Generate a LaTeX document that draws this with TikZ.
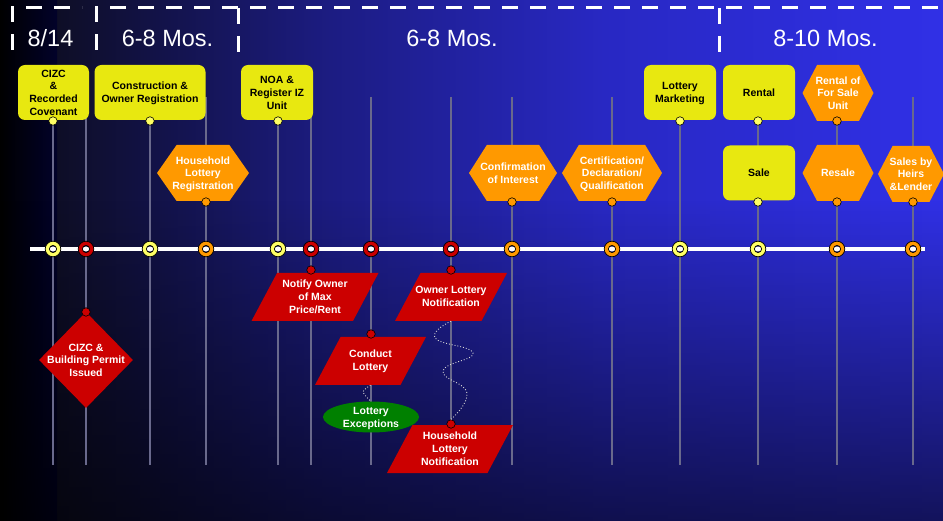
\documentclass[tikz,border=0pt]{standalone}
\usepackage{fontspec}
\setmainfont{Liberation Sans}
\usetikzlibrary{shapes.geometric,shapes.symbols,fadings}

\definecolor{bgA}{RGB}{14,14,38}
\definecolor{bgB}{RGB}{18,18,70}
\definecolor{bgC}{RGB}{28,28,130}
\definecolor{bgD}{RGB}{40,40,195}
\definecolor{bgE}{RGB}{48,48,230}
\definecolor{stripA}{RGB}{0,0,0}
\definecolor{stripB}{RGB}{2,2,42}
\definecolor{byel}{RGB}{232,232,16}
\definecolor{dyel}{RGB}{255,255,100}
\definecolor{borg}{RGB}{255,153,0}
\definecolor{bred}{RGB}{204,0,0}
\definecolor{bgreen}{RGB}{0,128,0}
\definecolor{vgray}{RGB}{105,105,140}

\pgfdeclarehorizontalshading{bgshade}{100bp}{color(0bp)=(bgA); color(25bp)=(bgA); color(28bp)=(bgA); color(33bp)=(bgB); color(42.5bp)=(bgC); color(57bp)=(bgD); color(75bp)=(bgE); color(100bp)=(bgE)}
\pgfdeclarehorizontalshading{stripshade}{100bp}{color(0bp)=(stripA); color(25bp)=(stripA); color(75bp)=(stripB); color(100bp)=(stripB)}
\tikzfading[name=botfade, top color=transparent!100, bottom color=transparent!40]

\newcommand\ztx[1]{\raisebox{-4pt}[0pt][0pt]{\makebox[0pt]{\begin{tabular}{@{}c@{}}#1\end{tabular}}}}
\newcommand\ptx[1]{\raisebox{-3.5pt}[23pt][23pt]{\makebox[0pt]{\begin{tabular}{@{}c@{}}#1\end{tabular}}}}

\begin{document}
\begin{tikzpicture}[x=1pt,y=-1pt,
  every node/.style={font=\bfseries\fontsize{10.5}{12.8}\selectfont, inner sep=0pt},
  ybox/.style={rectangle, rounded corners=7pt, fill=byel, text=black, minimum width=72pt, minimum height=55pt},
  hexo/.style={signal, signal to=east and west, fill=borg, text=white, minimum height=56pt},
  para/.style={trapezium, trapezium left angle=62, trapezium right angle=118, trapezium stretches body=true, inner sep=1pt, fill=bred, text=white, minimum height=48pt},
  dia/.style={diamond, fill=bred, text=white, minimum width=94pt, minimum height=96pt},
  ell/.style={ellipse, fill=bgreen, text=white, minimum width=96pt, minimum height=31pt},
  dot/.style={circle, draw=black, line width=0.6pt, minimum size=8.5pt},
  vline/.style={draw=vgray, line width=1.3pt},
  hdr/.style={font=\fontsize{23.5}{26}\selectfont, text=white},
  hdash/.style={draw=white, line width=3pt, dash pattern=on 16pt off 12pt},
  wave/.style={draw=gray!30, line width=0.9pt, dotted},
  ring/.style={draw=black, line width=0.7pt, fill=#1, even odd rule}
]
% background
\shade[shading=bgshade] (0,0) rectangle (943,521);
\shade[shading=stripshade] (0,0) rectangle (57,521);
\fill[black, path fading=botfade] (0,200) rectangle (943,521);
\useasboundingbox (0,0) rectangle (943,521);

% header brackets
\draw[hdash] (12,50) -- (12,8) -- (82,8);
\draw[hdash] (96,50) -- (96,8) -- (943,8);
\draw[hdash] (238,8) -- (238,52);
\draw[hdash] (719,8) -- (719,56);
\node[hdr] (h1) at (50.5,38.5) {8/14};
\node[hdr] (h2) at (167.5,38.5) {6-8 Mos.};
\node[hdr] (h3) at (452,38.5) {6-8 Mos.};
\node[hdr] (h4) at (825.5,38.5) {8-10 Mos.};

% vertical guide lines
\foreach \x in {53,86,150,206,278,311,371,451,512,612,680,758,837,913}{
  \coordinate (t\x) at (\x,97);
  \coordinate (b\x) at (\x,465);
  \draw[vline] (t\x) -- (b\x);
}

% timeline
\coordinate (tlA) at (30,249);
\coordinate (tlB) at (925,249);
\draw[white, line width=4pt] (tlA) -- (tlB);
\foreach \x/\c in {53/dyel,86/bred,150/dyel,206/borg,278/dyel,311/bred,371/bred,451/bred,512/borg,612/borg,680/dyel,758/dyel,837/borg,913/borg}{
  \coordinate (m\x) at (\x,249);
  \draw[ring=\c] (m\x) circle (7.8pt) circle (3.6pt);
}

% upper boxes
\node[ybox, minimum width=71pt] (cizc) at (53.5,92.5) {\ztx{CIZC\\\&\\Recorded\\Covenant}};
\node[ybox, minimum width=111pt] (constr) at (150,92.5) {\ztx{Construction \&\\Owner Registration}};
\node[ybox] (noa) at (277,92.5) {\ztx{NOA \&\\Register IZ\\Unit}};
\node[ybox] (lmkt) at (680,92.5) {\ztx{Lottery\\Marketing}};
\node[ybox] (rental) at (759,92.5) {\ztx{Rental}};
\node[ybox] (sale) at (759,173) {\ztx{Sale}};

\node[hexo, minimum width=92pt, signal pointer angle=110] (hlr) at (203,173) {\ztx{Household\\Lottery\\Registration}};
\node[hexo, minimum width=88pt, signal pointer angle=115] (coi) at (513,173) {\ztx{Confirmation\\of Interest}};
\node[hexo, minimum width=100pt, signal pointer angle=118] (cert) at (612,173) {\ztx{Certification/\\Declaration/\\Qualification}};
\node[hexo, minimum width=71pt, signal pointer angle=125] (rfsu) at (838,93) {\ztx{Rental of\\For Sale\\Unit}};
\node[hexo, minimum width=71pt, signal pointer angle=125] (resale) at (838,173) {\ztx{Resale}};
\node[hexo, minimum width=66pt, signal pointer angle=125] (heirs) at (911,174) {\ztx{Sales by\\Heirs\\\&Lender}};

% dots under upper boxes
\node[dot, fill=dyel] (dcizc) at (53,121) {};
\node[dot, fill=dyel] (dconstr) at (150,121) {};
\node[dot, fill=dyel] (dnoa) at (278,121) {};
\node[dot, fill=dyel] (dlmkt) at (680,121) {};
\node[dot, fill=dyel] (drental) at (758,121) {};
\node[dot, fill=dyel] (dsale) at (758,202) {};
\node[dot, fill=borg] (dhlr) at (206,202) {};
\node[dot, fill=borg] (dcoi) at (512,202) {};
\node[dot, fill=borg] (dcert) at (612,202) {};
\node[dot, fill=borg] (drfsu) at (837,121) {};
\node[dot, fill=borg] (dresale) at (837,202) {};
\node[dot, fill=borg] (dheirs) at (913,202) {};

% lower shapes
\node[dia] (permit) at (86,360) {\ztx{CIZC \&\\Building Permit\\Issued}};
\node[para, minimum width=127pt] (notify) at (315,297) {\ptx{Notify Owner\\of Max\\Price/Rent}};
\node[para, minimum width=112pt] (oln) at (451,297) {\ptx{Owner Lottery\\Notification}};
\node[para, minimum width=111pt] (conduct) at (370.5,361) {\ptx{Conduct\\Lottery}};
\node[para, minimum width=126pt] (hln) at (450,449) {\ptx{Household\\Lottery\\Notification}};
\node[ell] (lexc) at (371,417) {\ztx{Lottery\\Exceptions}};

\node[dot, fill=bred] (dpermit) at (86,312) {};
\node[dot, fill=bred] (dnotify) at (311,270) {};
\node[dot, fill=bred] (doln) at (451,270) {};
\node[dot, fill=bred] (dconduct) at (371,334) {};
\node[dot, fill=bred] (dhln) at (451,424) {};

% wavy connectors
\draw[wave] plot[smooth, tension=0.8] coordinates {(oln.south) (435,338) (473,353) (443,371) (467,393) (dhln.north)};
\draw[wave] plot[smooth] coordinates {(conduct.south) (363,392) (lexc.north)};
\end{tikzpicture}
\end{document}
